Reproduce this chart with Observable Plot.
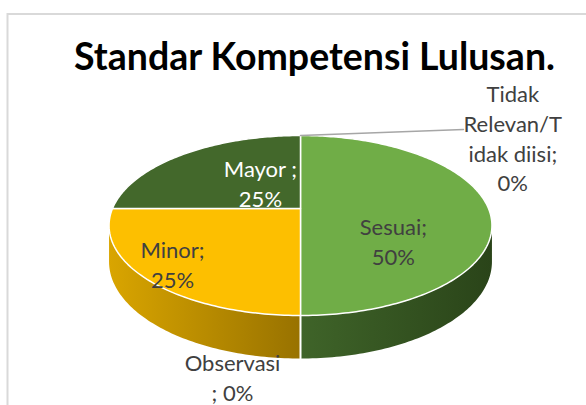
<!DOCTYPE html>
<html><head><meta charset="utf-8">
<script src="https://cdn.jsdelivr.net/npm/d3@7"></script>
<script src="https://cdn.jsdelivr.net/npm/@observablehq/plot@0.6"></script>
<style>body{margin:0;background:#fff;overflow:hidden}</style>
</head><body><div id="chart"></div>
<script>
// ---- data ----
const title = "Standar Kompetensi Lulusan.";
const categories = ["Sesuai", "Observasi", "Minor", "Mayor", "Tidak Relevan/Tidak diisi"];
const values = [50, 0, 25, 25, 0];
const labelNames = ["Sesuai;", "Observasi\n;", "Minor;", "Mayor ;", "Tidak\nRelevan/T\nidak diisi;"];
const labelJoin = ["\n", " ", "\n", "\n", "\n"];

// ---- styles / layout ----
const topColors = ["#70AD47", "#A5A5A5", "#FDBF00", "#43682B", "#5B9BD5"];
const sideGradients = [["#3f6429", "#2a4419"], ["#7c7c7c", "#5c5c5c"], ["#d9a500", "#987200"], ["#32501f", "#243a16"], ["#41719c", "#2e5070"]];
const labelColors = ["#404040", "#404040", "#404040", "#ffffff", "#404040"];
// label anchor in the pie plane: [angle (deg, clockwise from 12 o'clock), radius]
const labelPlacement = [[126.7, 0.576], [190.6, 1.44], [227.3, 0.828], [324.6, 0.39], [53.9, 1.655]];
const leaderEnd = [43.6, 1.518];

const K = 0.189;   // perspective strength
const T = 0.402;   // pie thickness (y units)
const sum = d3.sum(values);
let acc = 0;
const slices = categories.map((c, i) => {
  const start = acc / sum * 360; acc += values[i];
  return {cat: c, i, start, end: acc / sum * 360, value: values[i]};
});
const P = (phi, r = 1, drop = 0) => {
  const a = phi * Math.PI / 180, u = r * Math.sin(a), v = -r * Math.cos(a), w = 1 - K * v;
  return {x: u / w, y: (v + drop) / w};
};
const arc = (a, b, drop = 0) => {
  const n = Math.max(2, Math.ceil(Math.abs(b - a)) + 1);
  return d3.range(n).map(j => P(a + (b - a) * j / (n - 1), 1, drop));
};
const silR = Math.acos(-K) * 180 / Math.PI, silL = 360 - silR;

const marks = [];
// gradients
marks.push(() => {
  const defs = d3.create("svg:defs");
  slices.forEach((s, i) => {
    const g = defs.append("linearGradient").attr("id", "side" + i).attr("x1", 0).attr("x2", 1).attr("y1", 0).attr("y2", 0);
    g.append("stop").attr("offset", "0%").attr("stop-color", sideGradients[i][0]);
    g.append("stop").attr("offset", "100%").attr("stop-color", sideGradients[i][1]);
  });
  return defs.node();
});
marks.push(Plot.frame({stroke: "#d9d9d9", strokeWidth: 2, insetLeft: 7, insetTop: 13.5, insetRight: -20, insetBottom: -20}));
// side walls
slices.forEach((s, i) => {
  const a = Math.max(s.start, silR), b = Math.min(s.end, silL);
  if (s.value > 0 && b > a) {
    const pts = [...arc(a, b, 0), ...arc(b, a, T)];
    marks.push(Plot.line(pts, {x: "x", y: "y", curve: "linear-closed", fill: `url(#side${i})`, stroke: "none"}));
  }
});
// white separators on the side at slice boundaries
slices.forEach(s => {
  if (s.value > 0 && s.start > silR && s.start < silL) {
    marks.push(Plot.line([P(s.start, 1, 0), P(s.start, 1, T)], {x: "x", y: "y", stroke: "white", strokeWidth: 2}));
  }
});
// top faces
slices.forEach((s, i) => {
  if (s.value > 0) {
    const pts = [P(0, 0), ...arc(s.start, s.end)];
    marks.push(Plot.line(pts, {x: "x", y: "y", curve: "linear-closed", fill: topColors[i], stroke: "white", strokeWidth: 1.5}));
  }
});
// leader line for the last (0%) slice
const last = slices[slices.length - 1];
marks.push(Plot.line([P(last.start, 1), P(leaderEnd[0], leaderEnd[1])], {x: "x", y: "y", stroke: "#a6a6a6", strokeWidth: 1.5}));
// labels
const labelData = slices.map((s, i) => {
  const p = P(labelPlacement[i][0], labelPlacement[i][1]);
  const pct = Math.round(s.value / sum * 100) + "%";
  return {x: p.x, y: p.y, text: labelNames[i] + labelJoin[i] + pct, color: labelColors[i]};
});
marks.push(Plot.text(labelData, {x: "x", y: "y", text: "text", fill: "color", fontSize: 22, lineHeight: 1.36, fontFamily: "Lato", textAnchor: "middle", lineAnchor: "middle"}));
// title
marks.push(Plot.text([title], {frameAnchor: "top", dx: 21, dy: 57, lineAnchor: "middle", fontSize: 37.5, fontWeight: "bold", fontFamily: "Lato", fill: "#000"}));

const chart = Plot.plot({
  width: 586, height: 405, margin: 0,
  x: {domain: [-1, 1], range: [112, 488], axis: null},
  y: {domain: [-1, 1], range: [208 - 86.8, 208 + 86.8], axis: null},
  style: {background: "#fff", overflow: "hidden"},
  marks
});
document.getElementById("chart").append(chart);
</script>
</body></html>
